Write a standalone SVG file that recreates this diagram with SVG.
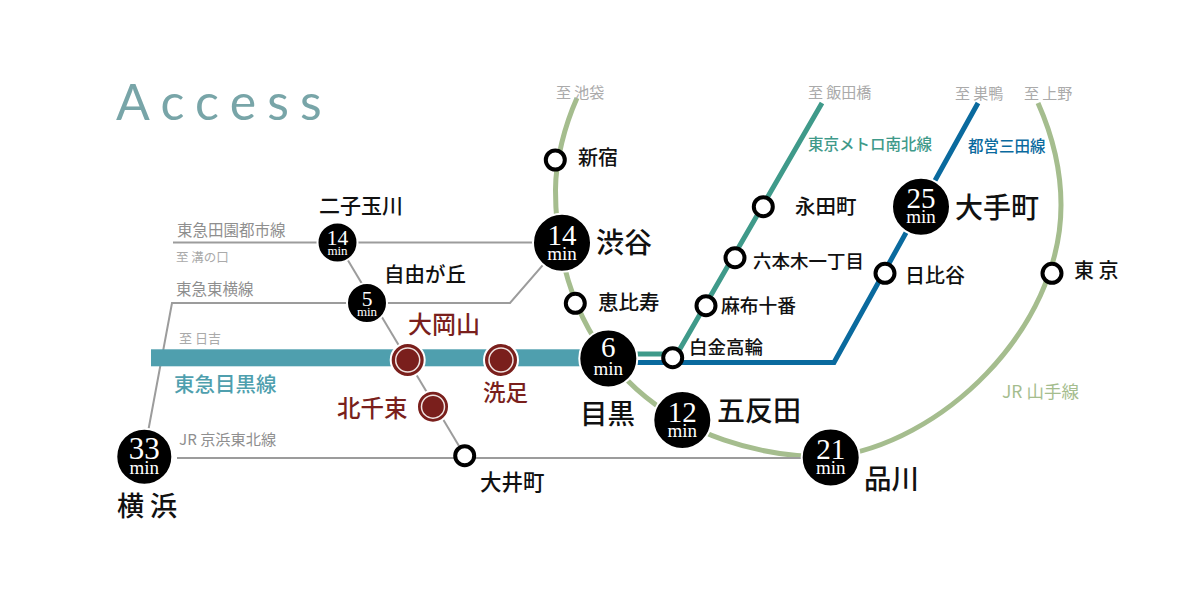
<svg xmlns="http://www.w3.org/2000/svg" width="1200" height="600" viewBox="0 0 1200 600">
<style>
text{font-family:"Noto Sans CJK JP","Liberation Serif",sans-serif;fill:#111;font-weight:500}
.n{font-family:"Liberation Serif","Noto Sans CJK JP",serif;fill:#fff;text-anchor:middle;font-weight:400}
.g{fill:#aaa;font-weight:400}
.t{fill:#8f8f8f;font-weight:400}
.r{fill:#7a1f1c}
.gy{fill:none;stroke:#9c9c9c;stroke-width:2}
.bk{fill:#000;stroke:#fff;stroke-width:2}
.op{fill:#fff;stroke:#000;stroke-width:4}
.rd{fill:#7a1f1c;stroke:#fff;stroke-width:2}
.rl{fill:none;stroke:#f0e4e2;stroke-width:1.5}
</style>
<rect width="1200" height="600" fill="#fff"/>
<text id="title" x="116" y="120" style="font-family:'Lato','Open Sans',sans-serif;font-weight:400;font-size:50px;letter-spacing:11.200px;fill:#78a5a8">Access</text>
<g id="connectors" fill="none">
<path d="M577 98C565 125 555.500 160 555.500 190C555.500 365 680 457 830 457" stroke="#a5bd8e" stroke-width="5"/>
<path d="M830 457C940 445 1061 330 1061 205C1061 165 1050 130 1038 103" stroke="#a5bd8e" stroke-width="5"/>
<path class="gy" d="M173 242.500H562"/>
<path class="gy" d="M148 432L172 303H510L562 243"/>
<path class="gy" d="M337 242L465 456"/>
<path class="gy" d="M177 458H830"/>
<rect x="151" y="349.300" width="450" height="17" fill="#4f9fae"/>
<path d="M822 103L677 354H610" stroke="#3f9a8a" stroke-width="5"/>
<path d="M978 103L834 362.500H610" stroke="#0a6a9e" stroke-width="5"/>
</g>
<g id="line-labels">
<text class="t" x="177" y="236" font-size="15.500">東急田園都市線</text>
<text class="g" x="176" y="262" font-size="12.500">至 溝の口</text>
<text class="t" x="176" y="295" font-size="15.500">東急東横線</text>
<text class="g" x="179" y="343" font-size="13">至 日吉</text>
<text x="174" y="392" font-size="20.500" style="fill:#4f9fae">東急目黒線</text>
<text class="t" x="179" y="445" font-size="15.200">JR 京浜東北線</text>
<text class="g" x="556" y="98" font-size="15">至 池袋</text>
<text class="g" x="808" y="98" font-size="15">至 飯田橋</text>
<text class="g" x="955" y="99" font-size="15">至 巣鴨</text>
<text class="g" x="1024" y="99" font-size="15">至 上野</text>
<text x="808" y="150" font-size="15.500" style="fill:#3f9a8a">東京メトロ南北線</text>
<text x="968" y="152" font-size="15.500" style="fill:#0a6a9e">都営三田線</text>
<text x="1002" y="398" font-size="17.500" style="fill:#a5bd8e;font-weight:400">JR 山手線</text>
</g>
<g id="st-futako"><circle class="bk" cx="337.500" cy="242.500" r="20"/><text class="n" x="337.500" y="245" font-size="21.500">14</text><text class="n" x="337.500" y="255" font-size="13">min</text><text x="319" y="213" font-size="21">二子玉川</text></g>
<g id="st-jiyugaoka"><circle class="bk" cx="367" cy="303" r="20"/><text class="n" x="367" y="305.500" font-size="21.500">5</text><text class="n" x="367" y="315.500" font-size="13">min</text><text x="384" y="282" font-size="20.500">自由が丘</text></g>
<g id="st-ookayama"><circle class="rd" cx="407.700" cy="360" r="17"/><circle class="rl" cx="407.700" cy="360" r="12"/><text class="r" x="408" y="333" font-size="24">大岡山</text></g>
<g id="st-senzoku"><circle class="rd" cx="501" cy="360" r="17"/><circle class="rl" cx="501" cy="360" r="12"/><text class="r" x="483" y="401" font-size="22.500">洗足</text></g>
<g id="st-kitasenzoku"><circle class="rd" cx="433" cy="406.700" r="16"/><circle class="rl" cx="433" cy="406.700" r="11.500"/><text class="r" x="337" y="417" font-size="23.500">北千束</text></g>
<g id="st-oimachi"><circle class="op" cx="464.700" cy="455.700" r="9.500"/><text x="480" y="490" font-size="21.500">大井町</text></g>
<g id="st-yokohama"><circle class="bk" cx="144.300" cy="456.700" r="28"/><text class="n" x="144.300" y="459" font-size="31">33</text><text class="n" x="144.300" y="473.500" font-size="19">min</text><text x="117" y="516" font-size="27">横 浜</text></g>
<g id="st-shibuya"><circle class="bk" cx="562" cy="242.700" r="29"/><text class="n" x="562" y="245" font-size="29">14</text><text class="n" x="562" y="260" font-size="19">min</text><text x="596" y="253" font-size="28">渋谷</text></g>
<g id="st-shinjuku"><circle class="op" cx="555.300" cy="160" r="9.500"/><text x="578" y="165" font-size="20">新宿</text></g>
<g id="st-ebisu"><circle class="op" cx="575.300" cy="303.300" r="9.500"/><text x="598" y="310" font-size="20.500">恵比寿</text></g>
<g id="st-meguro"><circle class="bk" cx="608.300" cy="358.500" r="29"/><text class="n" x="608.300" y="357" font-size="29">6</text><text class="n" x="608.300" y="375" font-size="19">min</text><text x="580" y="424" font-size="27.500">目黒</text></g>
<g id="st-shirokane"><circle class="op" cx="672.700" cy="357.700" r="9.500"/><text x="689" y="354" font-size="18.500">白金高輪</text></g>
<g id="st-gotanda"><circle class="bk" cx="682.300" cy="420" r="29"/><text class="n" x="682.300" y="421.700" font-size="29">12</text><text class="n" x="682.300" y="437.300" font-size="19">min</text><text x="717" y="421" font-size="28">五反田</text></g>
<g id="st-shinagawa"><circle class="bk" cx="830.700" cy="457.500" r="29"/><text class="n" x="830.700" y="459.300" font-size="29">21</text><text class="n" x="830.700" y="474.300" font-size="19">min</text><text x="864" y="489" font-size="27.500">品川</text></g>
<g id="st-nagatacho"><circle class="op" cx="763.300" cy="206.700" r="9.500"/><text x="795" y="214" font-size="20.500">永田町</text></g>
<g id="st-roppongi"><circle class="op" cx="735" cy="257.700" r="9.500"/><text x="753" y="268" font-size="18.500">六本木一丁目</text></g>
<g id="st-azabu"><circle class="op" cx="706" cy="305.700" r="9.500"/><text x="721" y="313" font-size="18.800">麻布十番</text></g>
<g id="st-otemachi"><circle class="bk" cx="921" cy="206.700" r="29"/><text class="n" x="921" y="208.300" font-size="29">25</text><text class="n" x="921" y="223.300" font-size="19">min</text><text x="955" y="218" font-size="28">大手町</text></g>
<g id="st-hibiya"><circle class="op" cx="885" cy="273.300" r="9.500"/><text x="905" y="283" font-size="20">日比谷</text></g>
<g id="st-tokyo"><circle class="op" cx="1052" cy="273.300" r="9.500"/><text x="1074" y="278" font-size="20">東 京</text></g>
</svg>
